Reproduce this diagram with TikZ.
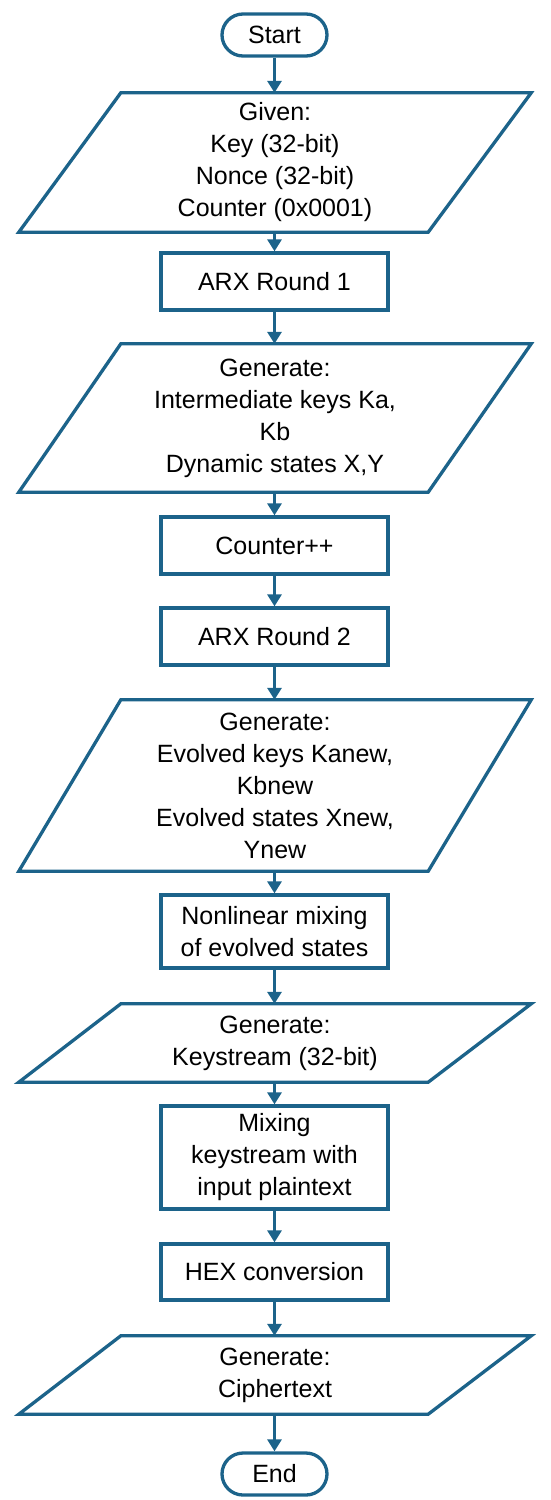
\documentclass[tikz,border=0pt]{standalone}
\usepackage{fontspec}
\setmainfont{Liberation Sans}
\usetikzlibrary{arrows.meta,shapes.misc}
\definecolor{fc}{RGB}{28,99,138}
\begin{document}
\begin{tikzpicture}[x=1pt,y=-1pt,
  txt/.style={font=\fontsize{25}{32}\selectfont, align=center, inner sep=0pt},
  term/.style={txt, draw=fc, line width=3.3pt, rounded rectangle, minimum width=105pt, minimum height=42pt},
  proc/.style={txt, draw=fc, line width=3.3pt, rectangle, minimum width=227pt},
  io/.style={txt, minimum width=512pt},
  pline/.style={draw=fc, line width=3.3pt, line join=miter},
  flow/.style={draw=fc, line width=3.3pt, -{Triangle[width=14pt,length=12pt]}}]
\useasboundingbox (0,0) rectangle (550,1500);
\node[term] (start) at (274.5,35) {Start};
\node[io, minimum height=139pt] (p1) at (275,162.5) {Given:\\Key (32-bit)\\Nonce (32-bit)\\Counter (0x0001)};
\node[proc, minimum height=57pt] (arx1) at (274.5,281.5) {ARX Round 1};
\node[io, minimum height=148pt] (p2) at (275,418) {Generate:\\Intermediate keys Ka,\\Kb\\Dynamic states X,Y};
\node[proc, minimum height=57pt] (cnt) at (274.5,545.5) {Counter++};
\node[proc, minimum height=57pt] (arx2) at (274.5,636.5) {ARX Round 2};
\node[io, minimum height=171pt] (p3) at (275,785.5) {Generate:\\Evolved keys Kanew,\\Kbnew\\Evolved states Xnew,\\Ynew};
\node[proc, minimum height=73pt] (nl) at (274.5,931.5) {Nonlinear mixing\\of evolved states};
\node[io, minimum height=78pt] (p4) at (275,1043) {Generate:\\Keystream (32-bit)};
\node[proc, minimum height=103pt] (mix) at (274.5,1157.5) {Mixing\\keystream with\\input plaintext};
\node[proc, minimum height=56pt] (hex) at (274.5,1272) {HEX conversion};
\node[io, minimum height=78pt] (p5) at (275,1375) {Generate:\\Ciphertext};
\node[term] (end) at (274.5,1474) {End};
\foreach \p in {p1,p2,p3,p4,p5}{
  \draw[pline] ([xshift=102pt]\p.north west) -- (\p.north east) -- ([xshift=-103pt]\p.south east) -- (\p.south west) -- cycle;
}
\draw[flow] (start.south) -- (start.south |- p1.north);
\draw[flow] (arx1.north |- p1.south) -- (arx1.north);
\draw[flow] (arx1.south) -- (arx1.south |- p2.north);
\draw[flow] (cnt.north |- p2.south) -- (cnt.north);
\draw[flow] (cnt.south) -- (arx2.north);
\draw[flow] (arx2.south) -- (arx2.south |- p3.north);
\draw[flow] (nl.north |- p3.south) -- (nl.north);
\draw[flow] (nl.south) -- (nl.south |- p4.north);
\draw[flow] (mix.north |- p4.south) -- (mix.north);
\draw[flow] (mix.south) -- (hex.north);
\draw[flow] (hex.south) -- (hex.south |- p5.north);
\draw[flow] (end.north |- p5.south) -- (end.north);
\end{tikzpicture}
\end{document}
